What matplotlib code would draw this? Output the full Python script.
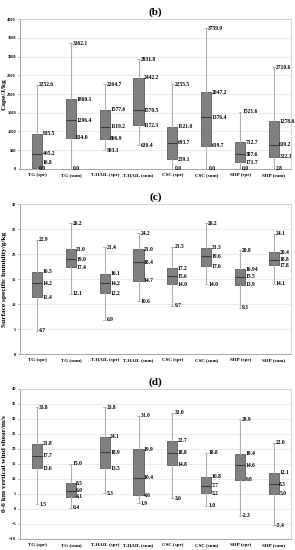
import matplotlib
matplotlib.use("Agg")
import matplotlib.pyplot as plt

plt.rcParams["font.family"] = ["Liberation Serif", "DejaVu Serif"]
plt.rcParams["font.weight"] = "bold"

categories = ["TG (spr)", "TG (sum)", "T-HAIL (spr)", "T-HAIL (sum)",
              "CSC (spr)", "CSC (sum)", "SHP (spr)", "SHP (sum)"]

# (b) CAPE: min, q1, median, q3, max
cape_min = [0.0, 0.0, 503.1, 630.4, 0.0, 0.0, 0.0, 2.8]
cape_q1 = [16.8, 834.0, 806.9, 1172.3, 259.1, 619.7, 171.7, 322.3]
cape_med = [405.2, 1296.4, 1119.2, 1570.5, 693.7, 1376.4, 387.6, 639.2]
cape_q3 = [935.5, 1860.1, 1577.6, 2442.2, 1121.0, 2047.2, 712.7, 1278.6]
cape_max = [2252.6, 3362.1, 2264.7, 2931.8, 2255.5, 3759.9, 1521.6, 2710.6]

# (c) surface specific humidity
q_min = [4.7, 12.1, 6.9, 10.6, 9.7, 14.0, 9.3, 14.1]
q_q1 = [11.4, 17.4, 12.2, 14.7, 14.0, 17.6, 13.9, 17.8]
q_med = [14.2, 19.0, 14.2, 18.4, 15.6, 19.6, 15.5, 18.8]
q_q3 = [16.5, 21.0, 16.1, 21.0, 17.2, 21.3, 16.94, 20.4]
q_max = [22.9, 26.2, 21.4, 24.2, 21.5, 26.2, 20.8, 24.1]

# (d) 0-6 km wind shear
shr_min = [1.5, 0.4, 5.3, 1.9, 3.6, 1.0, -2.3, -5.4]
shr_q1 = [13.6, 4.1, 13.5, 4.6, 14.8, 5.2, 9.8, 5.0]
shr_med = [17.7, 6.0, 18.9, 10.4, 18.8, 7.7, 14.6, 8.3]
shr_q3 = [21.8, 8.5, 24.1, 19.9, 22.7, 10.8, 18.4, 12.1]
shr_max = [33.8, 15.0, 33.8, 31.0, 32.0, 18.8, 29.9, 22.0]

panels = [
    ("(b)", "Cape/J/kg", (cape_min, cape_q1, cape_med, cape_q3, cape_max),
     (0, 4000), 500, [0.693, 0.272]),
    ("(c)", "Surface specific humidity/g/kg", (q_min, q_q1, q_med, q_q3, q_max),
     (0, 30), 5, [0.356, 0.273]),
    ("(d)", "0-6 km vertical wind shear/m/s", (shr_min, shr_q1, shr_med, shr_q3, shr_max),
     (-10, 40), 5, [0.020, 0.273]),
]

fig = plt.figure(figsize=(2.95, 5.5), dpi=100)

for title, ylabel, (lo, q1, med, q3, hi), ylim, step, (bot, h) in panels:
    ax = fig.add_axes([0.068, bot, 0.918, h])
    stats = []
    for i in range(len(categories)):
        stats.append(dict(whislo=lo[i], q1=q1[i], med=med[i], q3=q3[i], whishi=hi[i]))
    ax.bxp(stats, positions=range(len(categories)), widths=0.3, showfliers=False,
           patch_artist=True,
           boxprops=dict(facecolor="#808080", edgecolor="#5a5a5a", linewidth=0.6),
           medianprops=dict(color="#3a3a3a", linewidth=0.8),
           whiskerprops=dict(color="#b0b0b0", linewidth=0.8),
           capprops=dict(color="#b0b0b0", linewidth=0.6), capwidths=0.08)

    # value labels, nudged upwards when they would collide
    gap = 0.04 * (ylim[1] - ylim[0])
    for i in range(len(categories)):
        labels = [(lo[i], i + 0.06), (q1[i], i + 0.16), (med[i], i + 0.16),
                  (q3[i], i + 0.16), (hi[i], i + 0.06)]
        prev = None
        for v, x in sorted(labels, key=lambda t: t[0]):
            y = v if prev is None else max(v, prev + gap)
            prev = y
            txt = "16.94" if v == 16.94 else "{:.1f}".format(v)
            ax.text(x, y, txt, fontsize=4.0, fontweight="bold", va="center", ha="left")

    ax.set_xlim(-0.5, len(categories) - 0.5)
    ax.set_ylim(*ylim)
    ax.set_yticks(range(ylim[0], ylim[1] + 1, step))
    ax.set_xticks(range(len(categories)))
    ax.set_xticklabels(categories)
    ax.tick_params(axis="x", labelsize=3.6, length=0, pad=3)
    ax.tick_params(axis="y", labelsize=3.2, length=1.5, width=0.5, color="#888888", pad=1.5)
    for lbl in ax.get_xticklabels() + ax.get_yticklabels():
        lbl.set_fontweight("bold")
    ax.grid(axis="y", color="#e6e6e6", linewidth=0.5)
    ax.set_axisbelow(True)
    for side in ["top", "right"]:
        ax.spines[side].set_color("#cfcfcf")
        ax.spines[side].set_linewidth(0.6)
    for side in ["left", "bottom"]:
        ax.spines[side].set_color("#999999")
        ax.spines[side].set_linewidth(0.6)
    ax.set_ylabel(ylabel, fontsize=5.3, fontweight="bold")
    ax.yaxis.set_label_coords(-0.05, 0.5)
    ax.set_title(title, fontsize=8, fontweight="bold", pad=3)

fig.savefig("out.png", dpi=100)
